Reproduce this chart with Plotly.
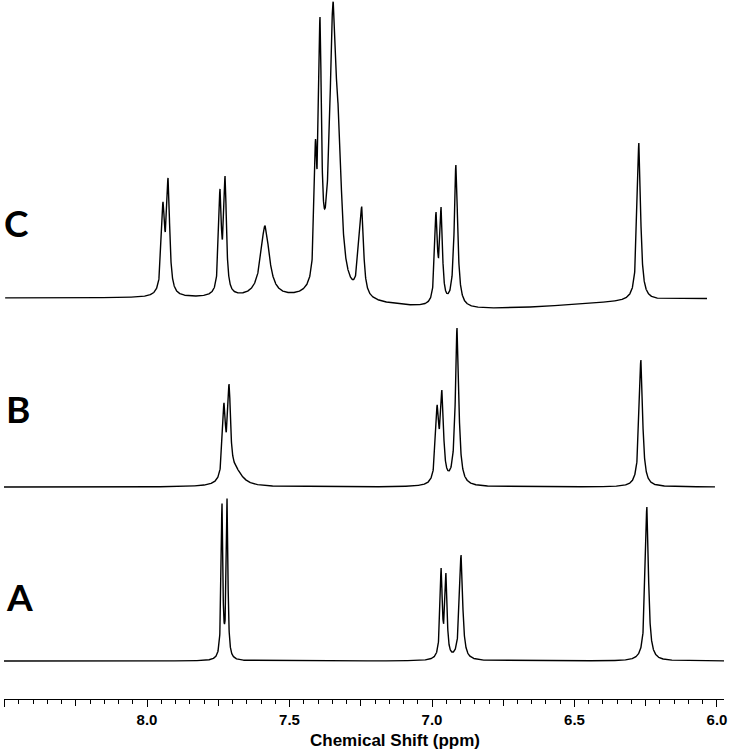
import numpy as np
import plotly.graph_objects as go

# ---------------- data ----------------
trace_names = ["C", "B", "A"]

# ppm span of each recorded trace (left, right)
C_span = [8.498, 6.035]
B_span = [8.505, 6.007]
A_span = [8.505, 5.972]

# baseline level of each trace (chart intensity units)
C_base = 401
B_base = 212
A_base = 38

# broad baseline drift of trace C (centre ppm, depth, sigma ppm)
C_drift_center = [6.85]
C_drift_depth = [-11]
C_drift_sigma = [0.35]

# peaks: chemical shift (ppm), apex intensity, half width at half max (ppm)
C_shift = [7.944, 7.926, 7.744, 7.726, 7.586, 7.409, 7.393, 7.347, 7.326,
           7.256, 7.246, 6.986, 6.968, 6.916, 6.274]
C_top = [497, 521, 510, 523, 473, 559, 682, 697, 580,
         469, 492, 487, 492, 534, 556]
C_hw = [0.0065, 0.0065, 0.0055, 0.0055, 0.018, 0.005, 0.006, 0.015, 0.010,
        0.006, 0.007, 0.0055, 0.0055, 0.007, 0.007]

B_shift = [7.730, 7.712, 7.690, 6.982, 6.965, 6.912, 6.267]
B_top = [296, 315, 234, 294, 309, 371, 339]
B_hw = [0.006, 0.006, 0.03, 0.0064, 0.0064, 0.007, 0.007]

A_shift = [7.737, 7.719, 6.968, 6.951, 6.898, 6.246]
A_top = [196, 201, 131, 126, 144, 192]
A_hw = [0.0033, 0.0033, 0.0045, 0.0045, 0.0065, 0.0065]

# axis ticks
major_ticks = [8.5, 8.0, 7.5, 7.0, 6.5, 6.0]
major_labels = ["", "8.0", "7.5", "7.0", "6.5", "6.0"]
mid_ticks = [8.25, 7.75, 7.25, 6.75, 6.25]
x_title = "Chemical Shift (ppm)"


# ---------------- build spectra from peak lists ----------------
def lorentz(x, c, w):
    return 1.0 / (1.0 + ((x - c) / w) ** 2)


def spectrum(span, base, shifts, tops, widths, dc=(), dd=(), ds=()):
    x = np.arange(span[1], span[0], 0.0004)

    def baseline(v):
        v = np.asarray(v, dtype=float)
        b = np.full_like(v, base, dtype=float)
        for c, d, s in zip(dc, dd, ds):
            b = b + d * np.exp(-0.5 * ((v - c) / s) ** 2)
        return b

    sh = np.array(shifts, float)
    w = np.array(widths, float)
    M = lorentz(sh[:, None], sh[None, :], w[None, :])
    amp = np.linalg.solve(M, np.array(tops, float) - baseline(sh))
    y = baseline(x)
    for a, c, ww in zip(amp, sh, w):
        y = y + a * lorentz(x, c, ww)
    return x, y


xC, yC = spectrum(C_span, C_base, C_shift, C_top, C_hw,
                  C_drift_center, C_drift_depth, C_drift_sigma)
xB, yB = spectrum(B_span, B_base, B_shift, B_top, B_hw)
xA, yA = spectrum(A_span, A_base, A_shift, A_top, A_hw)

fig = go.Figure()
for x, y, n in [(xC, yC, "C"), (xB, yB, "B"), (xA, yA, "A")]:
    fig.add_trace(go.Scatter(x=x, y=y, mode="lines", name=n,
                             line=dict(color="black", width=1.4),
                             hoverinfo="skip", showlegend=False))
# invisible trace to activate the secondary tick axis
fig.add_trace(go.Scatter(x=[mid_ticks[0]], y=[C_base], xaxis="x2", mode="lines",
                         line=dict(color="rgba(0,0,0,0)"), showlegend=False,
                         hoverinfo="skip"))

xr = [8.5018, 5.9754]
label_font = dict(family="Lato", size=37, color="black")
fig.update_layout(
    width=732, height=750,
    margin=dict(l=4, r=8, t=0, b=51),
    paper_bgcolor="white", plot_bgcolor="white",
    xaxis=dict(range=xr, showline=True, linecolor="black", linewidth=1,
               showgrid=False, zeroline=False,
               ticks="outside", ticklen=7, tickwidth=1, tickcolor="black",
               tickvals=major_ticks, ticktext=major_labels,
               tickfont=dict(family="Liberation Sans, Arial", size=15,
                             color="black", weight="bold"),
               minor=dict(ticks="outside", ticklen=4, tickwidth=1,
                          tickcolor="black", dtick=0.05, tick0=6.0,
                          showgrid=False)),
    xaxis2=dict(range=xr, overlaying="x", anchor="y", side="bottom",
                showline=False, showgrid=False, zeroline=False,
                ticks="outside", ticklen=6, tickwidth=1, tickcolor="black",
                tickvals=mid_ticks, showticklabels=False),
    yaxis=dict(range=[0, 699], visible=False, fixedrange=True),
    annotations=[
        dict(text="<b>C</b>", xref="paper", yref="paper", x=0.018, y=0.682,
             showarrow=False, xanchor="center", yanchor="middle",
             font=label_font),
        dict(text="<b>B</b>", xref="paper", yref="paper", x=0.019, y=0.415,
             showarrow=False, xanchor="center", yanchor="middle",
             font=label_font),
        dict(text="<b>A</b>", xref="paper", yref="paper", x=0.021, y=0.147,
             showarrow=False, xanchor="center", yanchor="middle",
             font=label_font),
        dict(text="<b>" + x_title + "</b>", xref="paper", yref="paper",
             x=0.543, y=-0.0587, showarrow=False, xanchor="center",
             yanchor="middle",
             font=dict(family="Liberation Sans, Arial", size=17, color="black")),
    ],
)

fig.write_html("out.html",
               config={"displayModeBar": False},
               post_script="document.body.style.margin='0';"
                           "document.body.style.overflow='hidden';")
